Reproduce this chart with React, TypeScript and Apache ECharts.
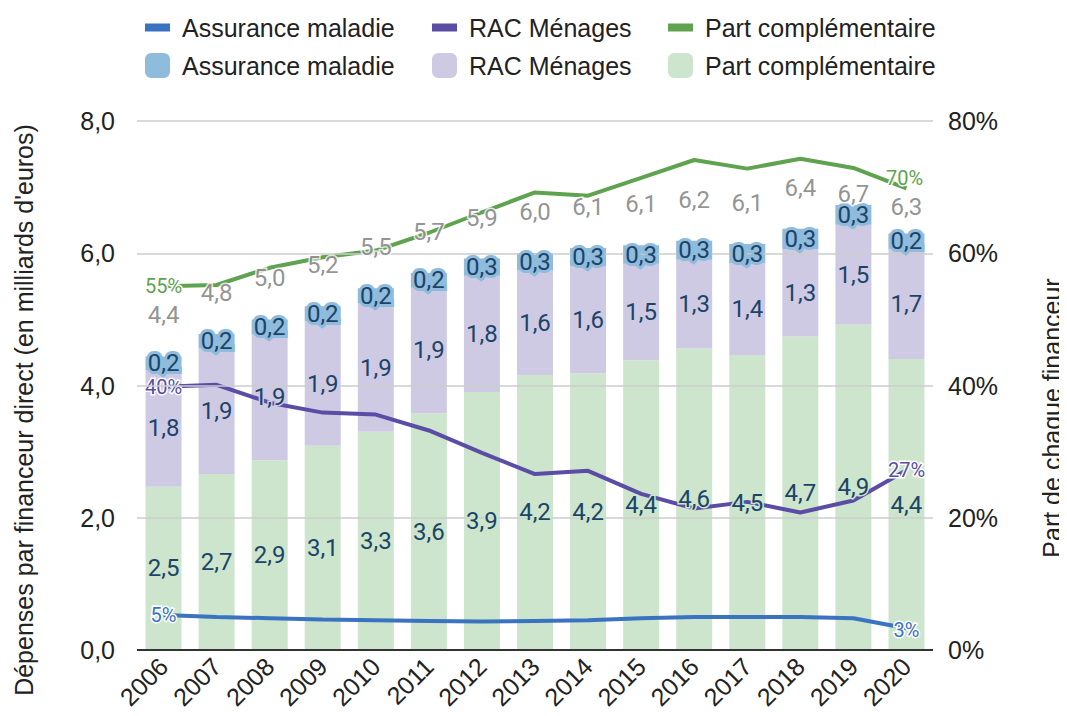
import { useEffect, useRef } from "react";
import * as echarts from "echarts";

// ---- Data ----
const years = ["2006", "2007", "2008", "2009", "2010", "2011", "2012", "2013", "2014", "2015", "2016", "2017", "2018", "2019", "2020"];

// Amounts (billions of euros), stacked bars
const partComplementaire = [2.47, 2.66, 2.87, 3.09, 3.3, 3.58, 3.9, 4.16, 4.18, 4.38, 4.56, 4.46, 4.74, 4.92, 4.4];
const racMenages = [1.76, 1.9, 1.91, 1.88, 1.94, 1.9, 1.76, 1.58, 1.62, 1.46, 1.34, 1.39, 1.32, 1.51, 1.66];
const assuranceMaladie = [0.21, 0.22, 0.22, 0.23, 0.23, 0.22, 0.26, 0.26, 0.28, 0.28, 0.29, 0.29, 0.31, 0.3, 0.24];

// Shares (%), lines on right axis
const shareAssuranceMaladie = [5.3, 5.0, 4.8, 4.6, 4.5, 4.4, 4.3, 4.4, 4.5, 4.8, 5.0, 5.0, 5.0, 4.8, 3.3];
const shareRacMenages = [39.8, 40.1, 37.4, 35.9, 35.6, 33.2, 29.8, 26.6, 27.1, 23.6, 21.4, 22.4, 20.8, 22.6, 27.2];
const sharePartComplementaire = [55.0, 55.2, 57.8, 59.4, 60.4, 63.1, 66.2, 69.2, 68.7, 71.4, 74.1, 72.8, 74.3, 72.9, 69.8];

const leftTicks = [0, 2, 4, 6, 8];
const rightTicks = [0, 20, 40, 60, 80];

const NAMES = ["Assurance maladie", "RAC Ménages", "Part complémentaire"];

// ---- Styles ----
const C_LINE = { am: "#3a73c2", rac: "#5b4ca6", comp: "#5fa24f" };
const C_BAR = { am: "#8fbbdc", rac: "#cfcae3", comp: "#cce5cc" };
const LABEL_COLOR = "#1b4468";
const SANS = "'Liberation Sans', Arial, sans-serif";
const ROBOTO = "Roboto, 'Liberation Sans', Arial, sans-serif";
const BAR_W = 36;
const AXIS_FS = 25;
const LEGEND_LEFTS = [140, 427, 663];

const fmt = (v: number) => v.toFixed(1).replace(".", ",");

export default function App() {
  const ref = useRef<HTMLDivElement>(null);

  useEffect(() => {
    if (!ref.current) return;
    const chart = echarts.init(ref.current, undefined, { renderer: "svg" });

    const totals = years.map((_, i) => partComplementaire[i] + racMenages[i] + assuranceMaladie[i]);
    const last = years.length - 1;

    const stackBar = (name: string, data: number[], color: string) => ({
      type: "bar",
      name,
      stack: "amounts",
      data,
      barWidth: BAR_W,
      barGap: "-100%",
      itemStyle: { color },
      z: 2,
      silent: true,
    });

    const labelBar = (name: string, data: number[], halo: string, haloW: number) => ({
      type: "bar",
      name,
      stack: "labels",
      data,
      barWidth: BAR_W,
      barGap: "-100%",
      itemStyle: { color: "rgba(0,0,0,0)" },
      z: 6,
      silent: true,
      label: {
        show: true,
        position: "inside",
        color: LABEL_COLOR,
        fontSize: 24,
        fontFamily: ROBOTO,
        textBorderColor: halo,
        textBorderWidth: haloW,
        formatter: (p: any) => fmt(p.value),
      },
    });

    const shareLine = (name: string, data: number[], color: string, lastOffset: number[]) => ({
      type: "line",
      name,
      yAxisIndex: 1,
      data: data.map((v, i) => (i === last ? { value: v, label: { offset: lastOffset } } : v)),
      symbol: "circle",
      symbolSize: 0,
      showSymbol: true,
      lineStyle: { color, width: 4 },
      itemStyle: { color },
      z: 4,
      silent: true,
      label: {
        show: true,
        position: "inside",
        color,
        fontSize: 20,
        fontFamily: ROBOTO,
        textBorderColor: "#ffffff",
        textBorderWidth: 3,
        formatter: (p: any) => (p.dataIndex === 0 || p.dataIndex === last ? Math.round(p.value) + "%" : ""),
      },
    });

    // total labels sit above the bars; the last two are nudged to avoid the lines' labels
    const totalDistance = (i: number) => (i === last ? 14 : i === last - 1 ? -1 : 29);

    const legendItem = (name: string, left: number, top: number, isBar: boolean) => ({
      data: [name],
      top,
      left,
      icon: isBar ? "roundRect" : "rect",
      itemWidth: 25,
      itemHeight: isBar ? 25 : 8,
      formatter: (n: string) => n.replace("bar:", ""),
      textStyle: { fontSize: AXIS_FS, fontFamily: SANS, color: "#222", padding: [0, 0, 0, 7] },
      selectedMode: false,
    });

    const option: any = {
      animation: false,
      backgroundColor: "#ffffff",
      grid: { left: 137, right: 134, top: 121, bottom: 66, containLabel: false },
      legend: [
        ...NAMES.map((n, i) => legendItem(n, LEGEND_LEFTS[i], 10, false)),
        ...NAMES.map((n, i) => legendItem("bar:" + n, LEGEND_LEFTS[i], 48, true)),
      ],
      xAxis: {
        type: "category",
        data: years,
        axisTick: { show: false },
        axisLine: { show: false },
        axisLabel: {
          rotate: 45,
          fontSize: AXIS_FS,
          fontFamily: SANS,
          color: "#222",
          margin: 12,
        },
      },
      yAxis: [
        {
          type: "value",
          min: leftTicks[0],
          max: leftTicks[leftTicks.length - 1],
          interval: leftTicks[1] - leftTicks[0],
          axisLine: { show: false },
          axisTick: { show: false },
          splitLine: { show: false },
          axisLabel: { fontSize: AXIS_FS, fontFamily: SANS, color: "#222", margin: 22, formatter: (v: number) => fmt(v) },
        },
        {
          type: "value",
          min: rightTicks[0],
          max: rightTicks[rightTicks.length - 1],
          interval: rightTicks[1] - rightTicks[0],
          axisLine: { show: false },
          axisTick: { show: false },
          splitLine: { show: false },
          axisLabel: { fontSize: AXIS_FS, fontFamily: SANS, color: "#222", margin: 15, formatter: (v: number) => v + "%" },
        },
      ],
      graphic: [
        {
          type: "text",
          x: 24,
          y: 410,
          rotation: Math.PI / 2,
          style: {
            text: "Dépenses par financeur direct (en milliards d'euros)",
            fontSize: AXIS_FS,
            fontFamily: SANS,
            fill: "#222",
            align: "center",
            verticalAlign: "middle",
          },
        },
        {
          type: "text",
          x: 1052,
          y: 418,
          rotation: Math.PI / 2,
          style: {
            text: "Part de chaque financeur",
            fontSize: AXIS_FS,
            fontFamily: SANS,
            fill: "#222",
            align: "center",
            verticalAlign: "middle",
          },
        },
      ],
      series: [
        {
          type: "line",
          data: [],
          markLine: {
            silent: true,
            symbol: "none",
            label: { show: false },
            data: leftTicks.map((t) => ({
              yAxis: t,
              lineStyle: { color: t === 0 ? "#333333" : "#cccccc", width: t === 0 ? 2 : 1.5, type: "solid" },
            })),
          },
          z: 1,
        },
        stackBar("bar:Part complémentaire", partComplementaire, C_BAR.comp),
        stackBar("bar:RAC Ménages", racMenages, C_BAR.rac),
        stackBar("bar:Assurance maladie", assuranceMaladie, C_BAR.am),
        shareLine("Assurance maladie", shareAssuranceMaladie, C_LINE.am, [0, 2]),
        shareLine("RAC Ménages", shareRacMenages, C_LINE.rac, [0, 0]),
        shareLine("Part complémentaire", sharePartComplementaire, C_LINE.comp, [-2, -10]),
        labelBar("lbl-comp", partComplementaire, C_BAR.comp, 3),
        labelBar("lbl-rac", racMenages, C_BAR.rac, 3),
        labelBar("lbl-am", assuranceMaladie, C_BAR.am, 6),
        {
          type: "scatter",
          name: "totals",
          data: totals.map((v, i) => ({ value: v, label: { distance: totalDistance(i) } })),
          symbolSize: 0,
          z: 7,
          silent: true,
          label: {
            show: true,
            position: "top",
            color: "#777777",
            fontSize: 24,
            fontFamily: ROBOTO,
            textBorderColor: "#ffffff",
            textBorderWidth: 3,
            formatter: (p: any) => fmt(p.value),
          },
        },
      ],
    };

    chart.setOption(option);
    return () => chart.dispose();
  }, []);

  return <div ref={ref} style={{ width: 1067, height: 716, margin: -8 }} />;
}
